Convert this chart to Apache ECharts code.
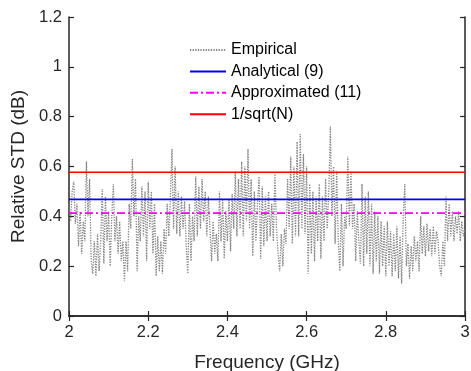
<!DOCTYPE html>
<html>
<head>
<meta charset="utf-8">
<script src="https://cdn.jsdelivr.net/npm/echarts@6/dist/echarts.min.js"></script>
<style>
  html, body { margin: 0; padding: 0; background: #fff; }
  #chart { width: 471px; height: 371px; }
</style>
</head>
<body>
<div id="chart"></div>
<script>
// frequency sampling of the empirical curve (GHz)
const fStart = 2.0;
const fStep = 0.004;

// empirical relative STD (one value per fStep)
const empirical = [
  0.45, 0.38, 0.50, 0.54, 0.37,
  0.45, 0.28, 0.42, 0.25, 0.38,
  0.30, 0.62, 0.40, 0.55, 0.22,
  0.17, 0.30, 0.16, 0.33, 0.18,
  0.30, 0.51, 0.21, 0.48, 0.30,
  0.42, 0.20, 0.40, 0.53, 0.30,
  0.40, 0.25, 0.38, 0.22, 0.30,
  0.14, 0.30, 0.18, 0.45, 0.35,
  0.63, 0.40, 0.55, 0.18, 0.40,
  0.30, 0.52, 0.32, 0.50, 0.22,
  0.54, 0.35, 0.50, 0.25, 0.45,
  0.16, 0.32, 0.18, 0.30, 0.17,
  0.35, 0.25, 0.45, 0.32, 0.47,
  0.67, 0.35, 0.60, 0.33, 0.50,
  0.32, 0.48, 0.35, 0.46, 0.28,
  0.17, 0.45, 0.22, 0.40, 0.30,
  0.56, 0.32, 0.52, 0.35, 0.55,
  0.38, 0.50, 0.32, 0.48, 0.35,
  0.22, 0.38, 0.25, 0.33, 0.22,
  0.50, 0.30, 0.47, 0.23, 0.42,
  0.30, 0.47, 0.26, 0.49, 0.35,
  0.58, 0.32, 0.55, 0.35, 0.62,
  0.32, 0.60, 0.38, 0.67, 0.35,
  0.55, 0.24, 0.50, 0.30, 0.45,
  0.56, 0.23, 0.52, 0.28, 0.48,
  0.30, 0.50, 0.32, 0.45, 0.30,
  0.57, 0.35, 0.25, 0.18, 0.33,
  0.20, 0.35, 0.29, 0.55, 0.35,
  0.64, 0.29, 0.60, 0.32, 0.70,
  0.32, 0.73, 0.35, 0.65, 0.33,
  0.60, 0.17, 0.53, 0.25, 0.50,
  0.22, 0.48, 0.30, 0.53, 0.23,
  0.48, 0.30, 0.55, 0.35, 0.50,
  0.76, 0.40, 0.60, 0.29, 0.58,
  0.30, 0.18, 0.45, 0.20, 0.40,
  0.35, 0.64, 0.36, 0.58, 0.35,
  0.45, 0.22, 0.42, 0.30, 0.21,
  0.53, 0.20, 0.48, 0.25, 0.50,
  0.20, 0.45, 0.17, 0.42, 0.22,
  0.40, 0.17, 0.38, 0.20, 0.36,
  0.16, 0.38, 0.20, 0.34, 0.16,
  0.33, 0.18, 0.36, 0.15, 0.32,
  0.13, 0.40, 0.53, 0.20, 0.29,
  0.15, 0.28, 0.18, 0.32, 0.22,
  0.30, 0.18, 0.40, 0.25, 0.36,
  0.24, 0.37, 0.26, 0.35, 0.24,
  0.36, 0.25, 0.34, 0.30, 0.20,
  0.16, 0.30, 0.20, 0.48, 0.30,
  0.45, 0.32, 0.42, 0.30, 0.40,
  0.33, 0.42, 0.30, 0.38, 0.32,
  0.35
];

// constant levels
const analytical = 0.468;
const approximated = 0.413;
const invSqrtN = 0.577;

const xTicks = [2, 2.2, 2.4, 2.6, 2.8, 3];
const yTicks = [0, 0.2, 0.4, 0.6, 0.8, 1, 1.2];

const font = 'Liberation Sans, Arial, sans-serif';
const ink = '#262626';

const empData = empirical.map((v, i) => [+(fStart + i * fStep).toFixed(4), v]);
const flat = v => [[2, v], [3, v]];

const axisCommon = {
  type: 'value',
  axisLine: { show: true, lineStyle: { color: ink, width: 1.5 } },
  axisTick: { show: true, inside: true, length: 5, lineStyle: { color: ink, width: 1.2 } },
  splitLine: { show: false }
};

let option = {
  animation: false,
  backgroundColor: '#fff',
  grid: { left: 69, right: 6, top: 17, bottom: 55, outerBoundsMode: 'none' },
  legend: {
    orient: 'vertical',
    left: 189,
    top: 42,
    padding: 0,
    itemWidth: 36,
    itemHeight: 14,
    itemGap: 5.4,
    itemStyle: { opacity: 0 },
    textStyle: { fontFamily: font, fontSize: 16, lineHeight: 16, color: '#000' },
    data: ['Empirical', 'Analytical (9)', 'Approximated (11)', '1/sqrt(N)']
  },
  xAxis: [
    Object.assign({}, axisCommon, {
      min: 2, max: 3, interval: 0.2,
      name: 'Frequency (GHz)',
      nameLocation: 'middle',
      nameGap: 37,
      nameTextStyle: { fontFamily: font, fontSize: 19, color: ink },
      axisLabel: {
        fontFamily: font, fontSize: 16.5, color: ink, margin: 8,
        formatter: v => (xTicks.includes(+v.toFixed(1)) ? String(+v.toFixed(1)) : '')
      }
    }),
    Object.assign({}, axisCommon, {
      position: 'top', min: 2, max: 3, interval: 0.2,
      axisLabel: { show: false }
    })
  ],
  yAxis: [
    Object.assign({}, axisCommon, {
      min: 0, max: 1.2, interval: 0.2,
      name: 'Relative STD (dB)',
      nameLocation: 'middle',
      nameGap: 30,
      nameTextStyle: { fontFamily: font, fontSize: 19, color: ink },
      axisLabel: {
        fontFamily: font, fontSize: 16.5, color: ink, margin: 7,
        formatter: v => (yTicks.includes(+v.toFixed(1)) ? String(+v.toFixed(1)) : '')
      }
    }),
    Object.assign({}, axisCommon, {
      position: 'right', min: 0, max: 1.2, interval: 0.2,
      axisLabel: { show: false }
    })
  ],
  series: [
    {
      name: 'Empirical',
      type: 'line',
      data: empData,
      symbol: 'none',
      lineStyle: { color: '#858585', width: 1.3, type: [1.3, 1.3] },
      itemStyle: { color: '#858585' },
      z: 2
    },
    {
      name: 'Analytical (9)',
      type: 'line',
      data: flat(analytical),
      symbol: 'none',
      lineStyle: { color: '#0000ff', width: 1.6 },
      itemStyle: { color: '#0000ff' },
      z: 3
    },
    {
      name: 'Approximated (11)',
      type: 'line',
      data: flat(approximated),
      symbol: 'none',
      lineStyle: { color: '#ff00ff', width: 1.8, type: [8, 3, 2, 3] },
      itemStyle: { color: '#ff00ff' },
      z: 3
    },
    {
      name: '1/sqrt(N)',
      type: 'line',
      data: flat(invSqrtN),
      symbol: 'none',
      lineStyle: { color: '#ff0000', width: 1.6 },
      itemStyle: { color: '#ff0000' },
      z: 3
    }
  ]
};

let myChart = echarts.init(document.getElementById('chart'));
myChart.setOption(option);
</script>
</body>
</html>
